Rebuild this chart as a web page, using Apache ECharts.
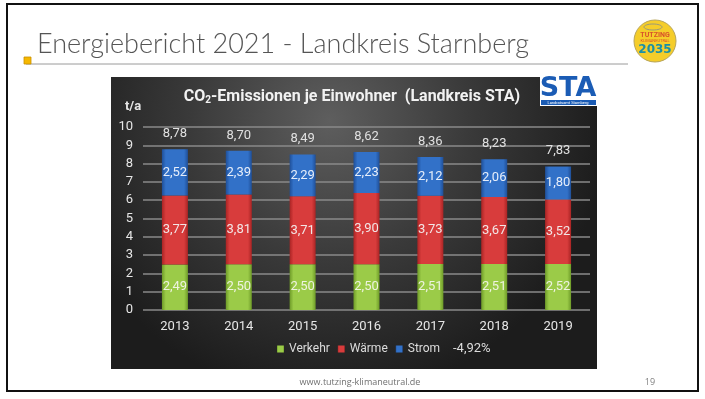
<!DOCTYPE html>
<html>
<head>
<meta charset="utf-8">
<script src="https://cdn.jsdelivr.net/npm/echarts@6/dist/echarts.min.js"></script>
<style>
html,body{margin:0;padding:0;background:#fff;}
#main{width:705px;height:399px;}
</style>
</head>
<body>
<div id="main"></div>
<script>
var years = ['2013','2014','2015','2016','2017','2018','2019'];
var verkehr = [2.49, 2.50, 2.50, 2.50, 2.51, 2.51, 2.52];
var waerme = [3.77, 3.81, 3.71, 3.90, 3.73, 3.67, 3.52];
var strom = [2.52, 2.39, 2.29, 2.23, 2.12, 2.06, 1.80];
var totals = [8.78, 8.70, 8.49, 8.62, 8.36, 8.23, 7.83];
var yTicks = [0, 10, 1];
var changeText = '-4,92%';

var narrow = 'Roboto, "Liberation Sans", sans-serif';
function de(v){ return v.toFixed(2).replace('.', ','); }
function barGrad(edge, mid){
    return new echarts.graphic.LinearGradient(0,0,1,0,[
        {offset:0,color:edge},{offset:0.15,color:mid},{offset:0.85,color:mid},{offset:1,color:edge}
    ]);
}

var chart = echarts.init(document.getElementById('main'));

chart.setOption({
    animation:false,
    backgroundColor:'#fff',
    color:['#8dc03a','#d23636','#2d68bd'],
    grid:{left:143, right:115, top:127, bottom:89},
    legend:{
        left:277, top:343, padding:0,
        itemWidth:7, itemHeight:7, itemGap:8,
        icon:'rect',
        textStyle:{color:'#dcdcdc', fontSize:12, fontFamily:narrow},
        data:['Verkehr','Wärme','Strom']
    },
    xAxis:{
        type:'category',
        data:years,
        axisLine:{show:false},
        axisTick:{show:false},
        axisLabel:{color:'#e6e6e6', fontSize:13, fontFamily:narrow, margin:10}
    },
    yAxis:{
        type:'value',
        min:yTicks[0], max:yTicks[1], interval:yTicks[2],
        axisLine:{show:false},
        axisTick:{show:false},
        axisLabel:{color:'#e6e6e6', fontSize:13, fontFamily:narrow, margin:10},
        splitLine:{lineStyle:{color:'#8a8a8a', width:1.5}}
    },
    series:[
        {
            name:'Verkehr', type:'bar', stack:'co2', barWidth:26,
            data:verkehr,
            itemStyle:{color:barGrad('#6e9b28','#9bcb48')},
            label:{show:true, position:'inside', color:'#eef3e0', fontSize:13, fontFamily:narrow, formatter:function(p){return de(p.value);}}
        },
        {
            name:'Wärme', type:'bar', stack:'co2', barWidth:26,
            data:waerme,
            itemStyle:{color:barGrad('#a92424','#d83c3c')},
            label:{show:true, position:'inside', color:'#f2e6e6', fontSize:13, fontFamily:narrow, formatter:function(p){return de(p.value);}}
        },
        {
            name:'Strom', type:'bar', stack:'co2', barWidth:26,
            data:strom,
            itemStyle:{color:barGrad('#1f4f98','#3271c8')},
            label:{show:true, position:'inside', color:'#e6eefa', fontSize:13, fontFamily:narrow, formatter:function(p){return de(p.value);}}
        },
        {
            name:'Summe', type:'bar', stack:'co2', barWidth:26,
            data:totals.map(function(){return 0;}),
            itemStyle:{color:'transparent'},
            label:{show:true, position:'top', distance:9, color:'#e0e0e0', fontSize:13, fontFamily:narrow,
                formatter:function(p){return de(totals[p.dataIndex]);}}
        }
    ],
    graphic:[
        // slide frame
        {type:'rect', z:-5, shape:{x:7, y:4, width:691, height:387}, style:{fill:'#fff', stroke:'#111', lineWidth:2}},
        // slide title
        {type:'text', z:-4, left:37, top:31, style:{text:'Energiebericht 2021 - Landkreis Starnberg', fill:'#555', fontSize:27, fontFamily:'Lato, "Open Sans", sans-serif', fontWeight:300}},
        {type:'line', z:-4, shape:{x1:26, y1:64, x2:628, y2:64}, style:{stroke:'#9a9a9a', lineWidth:1}},
        {type:'rect', z:-3, shape:{x:24, y:57, width:7, height:7}, style:{fill:'#f6b800', stroke:'#c98f00', lineWidth:0.8}},
        // round logo
        {type:'circle', z:-4, shape:{cx:655, cy:41, r:21}, style:{fill:'#f5cd2a', stroke:'#b8a55a', lineWidth:1}},
        {type:'ellipse', z:-3, shape:{cx:653, cy:27, rx:9, ry:3}, style:{fill:'none', stroke:'#9a9a7a', lineWidth:1}},
        {type:'text', z:-3, x:655, y:35, style:{text:'TUTZING', fill:'#d8512b', fontSize:7, fontWeight:'bold', fontFamily:narrow, align:'center', verticalAlign:'middle'}},
        {type:'text', z:-3, x:655, y:41, style:{text:'KLIMANEUTRAL', fill:'#d8512b', fontSize:4, fontFamily:narrow, align:'center', verticalAlign:'middle'}},
        {type:'text', z:-3, x:655, y:50, style:{text:'2035', fill:'#1b8fa8', fontSize:12, fontWeight:'bold', fontFamily:'"DejaVu Sans", sans-serif', align:'center', verticalAlign:'middle'}},
        // dark chart panel
        {type:'rect', z:-2, shape:{x:111, y:77, width:486, height:292},
            style:{fill:new echarts.graphic.RadialGradient(0.45,0.15,0.95,[
                {offset:0,color:'#5e5e5e'},{offset:0.5,color:'#3a3a3a'},{offset:1,color:'#1c1c1c'}
            ])}},
        {type:'text', z:-1, x:352, y:97, style:{
            rich:{t:{fill:'#f2f2f2', fontSize:16, fontWeight:'bold', fontFamily:narrow},
                  s:{fill:'#f2f2f2', fontSize:10, fontWeight:'bold', fontFamily:narrow, padding:[7,0,0,0]}},
            text:'{t|CO}{s|2}{t|-Emissionen je Einwohner  (Landkreis STA)}',
            align:'center', verticalAlign:'middle'}},
        {type:'text', z:-1, x:133, y:107, style:{text:'t/a', fill:'#e6e6e6', fontSize:13, fontWeight:'bold', fontFamily:narrow, align:'center', verticalAlign:'middle'}},
        {type:'text', z:-1, left:453, top:342, style:{text:changeText, fill:'#dcdcdc', fontSize:13, fontFamily:narrow}},
        // STA logo
        {type:'rect', z:-1, shape:{x:540, y:77, width:57, height:29}, style:{fill:'#fff'}},
        {type:'text', z:0, x:568, y:89, style:{text:'STA', fill:'#1b5cb5', fontSize:27, fontWeight:'bold', fontFamily:'"DejaVu Sans", sans-serif', align:'center', verticalAlign:'middle'}},
        {type:'rect', z:0, shape:{x:541, y:100, width:55, height:5}, style:{fill:'#1b5cb5'}},
        {type:'text', z:0, x:568, y:102.5, style:{text:'Landratsamt Starnberg', fill:'#fff', fontSize:4, fontFamily:narrow, align:'center', verticalAlign:'middle'}},
        // footer
        {type:'text', z:-1, x:360, y:382, style:{text:'www.tutzing-klimaneutral.de', fill:'#707070', fontSize:9, fontFamily:'"Open Sans", sans-serif', align:'center', verticalAlign:'middle'}},
        {type:'text', z:-1, x:650, y:382, style:{text:'19', fill:'#808080', fontSize:9, fontFamily:'"Open Sans", sans-serif', align:'center', verticalAlign:'middle'}}
    ]
});
</script>
</body>
</html>
